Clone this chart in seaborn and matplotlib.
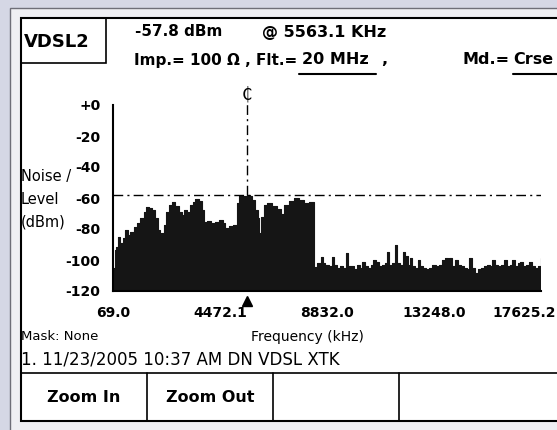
import matplotlib
matplotlib.use("Agg")
import pandas as pd
import seaborn as sns
from matplotlib import pyplot as plt
from matplotlib.lines import Line2D
from matplotlib.patches import Rectangle
from matplotlib.transforms import ScaledTranslation

# spectrum: passband (VDSL tones) and noise floor above cut-off
passband_freq = [69, 151, 205, 275, 369, 480, 575, 673, 780, 920,
                 1056, 1191, 1331, 1438, 1549, 1685, 1808, 1907, 1989, 2043,
                 2154, 2260, 2371, 2495, 2630, 2770, 2906, 3000, 3112, 3223,
                 3358, 3453, 3593, 3728, 3798, 3934, 4098, 4263, 4427, 4592,
                 4674, 4818, 5003, 5167, 5249, 5414, 5563.1, 5702, 5784, 5907,
                 6031, 6072, 6154, 6277, 6401, 6606, 6812, 6976, 7100, 7305,
                 7511, 7716, 7922, 8128, 8292]
passband_level = [-105, -93.5, -91.6, -85, -89, -85.8, -80.6, -84, -81.7, -79,
                  -76, -73, -69, -66, -66.5, -68, -73, -80.6, -85.8, -82.5,
                  -77.4, -69, -64.5, -62.4, -65, -69, -71, -67.7, -69, -64.5,
                  -62.4, -60.6, -62, -67.7, -75.5, -75, -76, -75.5, -74.5, -76,
                  -79.4, -78, -77.4, -63, -59, -58.5, -57.8, -59, -61, -67.7,
                  -73, -82.5, -72, -64.5, -63.3, -65, -67, -70, -64.5, -61.8,
                  -60, -61.3, -63.3, -62.4, -62.4]

floor_freq = [8333, 8456, 8621, 8703, 8785, 8909, 9032, 9114, 9238, 9361,
              9484, 9608, 9690, 9813, 9937, 10060, 10183, 10266, 10389, 10512,
              10636, 10718, 10841, 10965, 11088, 11211, 11293, 11376, 11499, 11622,
              11705, 11828, 11951, 12034, 12075, 12157, 12239, 12321, 12445, 12568,
              12650, 12774, 12897, 13020, 13144, 13308, 13431, 13555, 13637, 13699,
              13802, 13843, 13966, 14089, 14213, 14336, 14459, 14583, 14665, 14788,
              14911, 15035, 15158, 15282, 15405, 15528, 15610, 15734, 15857, 15980,
              16104, 16227, 16351, 16433, 16556, 16679, 16761, 16885, 17008, 17131,
              17255, 17378, 17501, 17625.2]
floor_level = [-104.3, -102, -98, -102, -103, -104, -97.9, -103, -105, -104,
               -105, -95.5, -104, -104, -106, -103, -105, -101.5, -104, -105,
               -103, -100, -101, -104, -103, -102, -94.6, -103, -102, -90.3,
               -102, -103, -94.6, -103, -97.5, -103, -99, -104, -105, -100,
               -104, -105, -106, -105, -103, -104, -103, -100, -104, -99,
               -104, -98.7, -104, -100, -103, -104, -105, -106, -99, -105,
               -108.4, -106, -105, -104, -103, -104, -100, -103, -104, -103,
               -100, -104, -103, -100, -104, -102, -101.5, -104, -103, -101,
               -104, -105, -104, -98.7]

x_ticks = [69.0, 4472.1, 8832.0, 13248.0, 17625.2]
x_tick_labels = ["69.0", "4472.1", "8832.0", "13248.0", "17625.2"]
y_ticks = [0, -20, -40, -60, -80, -100, -120]
y_tick_labels = ["+0", "-20", "-40", "-60", "-80", "-100", "-120"]

marker_freq = 5563.1
marker_level = -57.8

spectrum = pd.DataFrame({"freq": passband_freq + floor_freq,
                         "level": passband_level + floor_level})

sns.set_style("white")
plt.rcParams["font.family"] = ["DejaVu Sans"]
plt.rcParams["text.color"] = "black"
plt.rcParams["xtick.color"] = "black"
plt.rcParams["ytick.color"] = "black"

W, H = 557, 430


def fx(x):
    return x / W


def fy(y):
    return 1 - y / H


fig = plt.figure(figsize=(W / 100, H / 100), dpi=100)
fig.patch.set_facecolor("#d5d7e5")

# screen frames
fig.add_artist(Rectangle((fx(10), -0.1), 1, fy(8) + 0.1, transform=fig.transFigure,
                         facecolor="#efeff3", edgecolor="#6e6e78", lw=1, zorder=-10))
fig.add_artist(Rectangle((fx(21), fy(421)), 1, fy(18) - fy(421), transform=fig.transFigure,
                         facecolor="white", edgecolor="black", lw=1.5, zorder=-9))
fig.add_artist(Rectangle((fx(21), fy(63)), fx(106) - fx(21), fy(18) - fy(63), transform=fig.transFigure,
                         facecolor="none", edgecolor="black", lw=1.2, zorder=2))

ax = fig.add_axes([fx(113), fy(291), (541 - 113) / W, (291 - 105) / H])
ax.set_facecolor("none")

ink = "#151515"
ax.fill_between(spectrum["freq"], spectrum["level"], -120, step="post", color=ink, lw=0)
sns.lineplot(data=spectrum, x="freq", y="level", drawstyle="steps-post",
             color=ink, lw=0.8, estimator=None, ax=ax)

dashdot = (0, (7, 3, 1.5, 3))
ax.axhline(marker_level, color="black", lw=1, ls=dashdot)
ax.plot([marker_freq, marker_freq], [marker_level, 1.5], color="black", lw=1,
        ls=dashdot, clip_on=False)
ax.text(marker_freq, 7, "\u20b5", ha="center", va="center", fontsize=12, clip_on=False)
ax.plot([marker_freq], [-126.3], marker="^", ms=7, color="black", clip_on=False)

ax.set_xlim(69, 17625.2)
ax.set_ylim(-120, 0)
ax.set_xticks(x_ticks)
ax.set_xticklabels(x_tick_labels, fontsize=10, fontweight="bold")
ax.set_yticks(y_ticks)
ax.set_yticklabels(y_tick_labels, fontsize=10, fontweight="bold")
ax.tick_params(axis="x", direction="out", length=7, width=1.2, pad=4)
ax.tick_params(axis="y", direction="out", length=6, width=1.2, pad=3)
# the last frequency label is pushed left so it stays on screen
last = ax.get_xticklabels()[-1]
last.set_horizontalalignment("right")
last.set_transform(last.get_transform() + ScaledTranslation(0.15, 0, fig.dpi_scale_trans))
for side in ["top", "right"]:
    ax.spines[side].set_visible(False)
for side in ["left", "bottom"]:
    ax.spines[side].set_color("black")
    ax.spines[side].set_linewidth(1.5)
ax.set_xlabel("")
ax.set_ylabel("")

# header
fig.text(fx(24), fy(42), "VDSL2", fontsize=13, fontweight="bold", va="center")
fig.text(fx(135), fy(32), "-57.8 dBm", fontsize=11, fontweight="bold", va="center")
fig.text(fx(262), fy(32), "@ 5563.1 KHz", fontsize=11.5, fontweight="bold", va="center")
fig.text(fx(134), fy(60), "Imp.= 100 \u03a9 , Flt.=", fontsize=11, fontweight="bold", va="center")
fig.text(fx(302), fy(60), "20 MHz", fontsize=11.5, fontweight="bold", va="center")
fig.text(fx(381), fy(60), ",", fontsize=11.5, fontweight="bold", va="center")
fig.text(fx(462), fy(60), "Md.=", fontsize=11.5, fontweight="bold", va="center")
fig.text(fx(513), fy(60), "Crse", fontsize=11.5, fontweight="bold", va="center")
for x0, x1 in [(299, 376), (513, 557)]:
    fig.add_artist(Line2D([fx(x0), fx(x1)], [fy(74), fy(74)], transform=fig.transFigure,
                          color="black", lw=1.5))

# y label; its box hides the sign of the -40 label as on the screen
fig.add_artist(Rectangle((fx(22), fy(184)), fx(79) - fx(22), fy(170) - fy(184),
                         transform=fig.transFigure, facecolor="white", edgecolor="none", zorder=1))
fig.text(fx(21), fy(177), "Noise /", fontsize=10.5, va="center")
fig.text(fx(21), fy(199), "Level", fontsize=10.5, va="center")
fig.text(fx(21), fy(222), "(dBm)", fontsize=10.5, va="center")

# footer
fig.text(fx(21), fy(337), "Mask: None", fontsize=9.5, va="center")
fig.text(fx(307), fy(337), "Frequency (kHz)", fontsize=10, va="center", ha="center")
fig.text(fx(21), fy(359), "1. 11/23/2005 10:37 AM DN VDSL XTK", fontsize=12, va="center")

fig.add_artist(Line2D([fx(21), 1], [fy(373), fy(373)], transform=fig.transFigure,
                      color="black", lw=1.2))
for xd in [147, 273, 399]:
    fig.add_artist(Line2D([fx(xd), fx(xd)], [fy(373), fy(421)], transform=fig.transFigure,
                          color="black", lw=1.2))
fig.text(fx(84), fy(397), "Zoom In", fontsize=11.5, fontweight="bold", ha="center", va="center")
fig.text(fx(210), fy(397), "Zoom Out", fontsize=11.5, fontweight="bold", ha="center", va="center")

fig.savefig("out.png", dpi=100, facecolor=fig.get_facecolor())
